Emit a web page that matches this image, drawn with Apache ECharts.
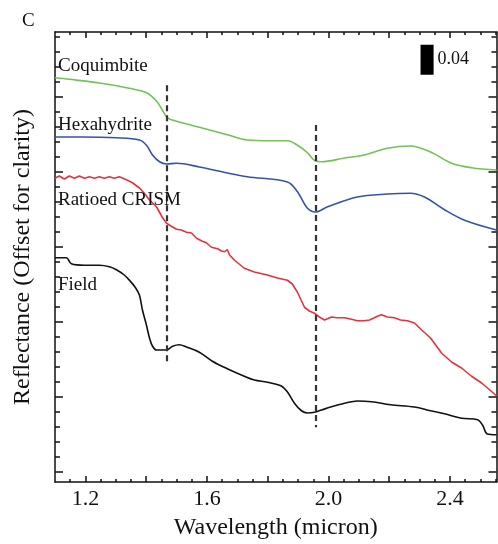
<!DOCTYPE html>
<html>
<head>
<meta charset="utf-8">
<script src="https://cdn.jsdelivr.net/npm/echarts@6/dist/echarts.min.js"></script>
<style>html,body{margin:0;padding:0;background:#fff;}#c{width:498px;height:544px;}</style>
</head>
<body>
<div id="c"></div>
<script>
// ---- data: [wavelength (micron), reflectance (offset)] ----
const coquimbite = [[1.10,0.625],[1.147,0.623],[1.246,0.618],[1.345,0.611],[1.401,0.605],[1.434,0.594],[1.453,0.582],[1.467,0.573],[1.483,0.569],[1.575,0.559],[1.667,0.549],[1.733,0.542],[1.806,0.541],[1.865,0.541],[1.898,0.535],[1.931,0.525],[1.957,0.514],[1.977,0.513],[2.053,0.518],[2.118,0.522],[2.194,0.531],[2.270,0.534],[2.336,0.526],[2.405,0.511],[2.471,0.505],[2.553,0.502]];
const hexahydrite = [[1.10,0.546],[1.190,0.546],[1.302,0.545],[1.378,0.542],[1.401,0.535],[1.421,0.522],[1.444,0.513],[1.467,0.510],[1.500,0.511],[1.575,0.506],[1.667,0.498],[1.733,0.493],[1.865,0.486],[1.898,0.473],[1.931,0.451],[1.957,0.446],[1.997,0.453],[2.095,0.466],[2.194,0.470],[2.270,0.471],[2.316,0.466],[2.382,0.449],[2.448,0.435],[2.553,0.422]];
const ratioedCRISM = [[1.10,0.491],[1.114,0.494],[1.131,0.490],[1.147,0.494],[1.164,0.491],[1.180,0.494],[1.197,0.491],[1.213,0.493],[1.230,0.491],[1.246,0.493],[1.262,0.491],[1.279,0.493],[1.295,0.491],[1.312,0.493],[1.335,0.489],[1.355,0.485],[1.378,0.478],[1.394,0.471],[1.411,0.462],[1.434,0.453],[1.453,0.439],[1.467,0.431],[1.483,0.427],[1.500,0.423],[1.516,0.422],[1.533,0.419],[1.549,0.418],[1.566,0.411],[1.585,0.407],[1.598,0.405],[1.615,0.399],[1.635,0.397],[1.648,0.394],[1.658,0.393],[1.667,0.396],[1.674,0.389],[1.690,0.382],[1.723,0.371],[1.756,0.366],[1.799,0.362],[1.832,0.358],[1.865,0.355],[1.881,0.350],[1.898,0.339],[1.921,0.319],[1.937,0.314],[1.954,0.311],[1.970,0.306],[1.987,0.302],[2.010,0.306],[2.029,0.305],[2.053,0.305],[2.076,0.303],[2.095,0.301],[2.118,0.301],[2.135,0.302],[2.151,0.305],[2.161,0.307],[2.174,0.309],[2.194,0.306],[2.217,0.305],[2.237,0.302],[2.260,0.301],[2.283,0.298],[2.306,0.289],[2.336,0.278],[2.372,0.258],[2.405,0.246],[2.438,0.238],[2.471,0.227],[2.504,0.218],[2.530,0.209],[2.553,0.201]];
const field = [[1.10,0.385],[1.137,0.385],[1.154,0.377],[1.197,0.375],[1.246,0.375],[1.279,0.373],[1.302,0.369],[1.328,0.362],[1.345,0.355],[1.365,0.345],[1.378,0.335],[1.388,0.315],[1.401,0.295],[1.411,0.278],[1.421,0.267],[1.434,0.262],[1.453,0.262],[1.467,0.262],[1.487,0.267],[1.509,0.269],[1.533,0.266],[1.575,0.259],[1.618,0.247],[1.667,0.237],[1.723,0.227],[1.756,0.222],[1.799,0.219],[1.845,0.214],[1.865,0.206],[1.888,0.191],[1.911,0.181],[1.931,0.178],[1.954,0.179],[1.977,0.182],[2.007,0.186],[2.053,0.191],[2.095,0.194],[2.142,0.193],[2.204,0.189],[2.283,0.186],[2.336,0.181],[2.382,0.177],[2.438,0.171],[2.491,0.169],[2.507,0.162],[2.523,0.150],[2.553,0.149]];

// series names and label anchor heights
const seriesNames = ['Coquimbite','Hexahydrite','Ratioed CRISM','Field'];
const labelY = [0.641, 0.562, 0.462, 0.349];

// dashed reference lines: [wavelength, yTop, yBottom]
const bandLines = [[1.467, 0.615, 0.242],[1.957, 0.562, 0.159]];

// scale bar: [x0, x1, y0, y1] and label
const scaleBar = [2.303, 2.346, 0.629, 0.669];
const scaleBarLabel = '0.04';

// axes
const xMin = 1.10, xMax = 2.553;
const yMin = 0.086, yMax = 0.686;
const xLabelValues = [1.2, 1.6, 2.0, 2.4];
const xMajorTicks = [1.2, 1.4, 1.6, 1.8, 2.0, 2.2, 2.4];
const xMinorTicks = [1.15,1.25,1.3,1.35,1.45,1.5,1.55,1.65,1.7,1.75,1.85,1.9,1.95,2.05,2.1,2.15,2.25,2.3,2.35,2.45,2.5,2.55];
const yMajorTicks = [0.1, 0.2, 0.3, 0.4, 0.5, 0.6];
const yMinorTicks = [0.12,0.14,0.16,0.18,0.22,0.24,0.26,0.28,0.32,0.34,0.36,0.38,0.42,0.44,0.46,0.48,0.52,0.54,0.56,0.58,0.62,0.64,0.66,0.68];

const colors = ['#72c255', '#3652b0', '#e8323a', '#111111'];
const smoothness = [0.35, 0.35, false, 0.35];
const FONT = "'Liberation Serif', 'Times New Roman', serif";

function xAx(pos, ticks, len, opts) {
  return Object.assign({
    type: 'value', position: pos, min: xMin, max: xMax,
    axisLine: { show: true, lineStyle: { color: '#111', width: 1.5 } },
    axisTick: { show: true, inside: true, length: len, customValues: ticks, lineStyle: { color: '#111', width: 1.5 } },
    axisLabel: { show: false },
    splitLine: { show: false }
  }, opts || {});
}
function yAx(pos, ticks, len, opts) {
  return Object.assign({
    type: 'value', position: pos, min: yMin, max: yMax,
    axisLine: { show: true, lineStyle: { color: '#111', width: 1.5 } },
    axisTick: { show: true, inside: true, length: len, customValues: ticks, lineStyle: { color: '#111', width: 1.5 } },
    axisLabel: { show: false },
    splitLine: { show: false }
  }, opts || {});
}

const chart = echarts.init(document.getElementById('c'), null, { renderer: 'canvas' });

const datasets = [coquimbite, hexahydrite, ratioedCRISM, field];
const series = datasets.map((d, i) => ({
  name: seriesNames[i], type: 'line', data: d, showSymbol: false, symbol: 'none',
  smooth: smoothness[i], xAxisIndex: 0, yAxisIndex: 0,
  lineStyle: { color: colors[i], width: 1.6 },
  silent: true, z: 3,
  markPoint: {
    symbol: 'circle', symbolSize: 0, silent: true,
    data: [{ coord: [xMin, labelY[i]], value: seriesNames[i] }],
    label: { show: true, position: 'right', distance: 3, formatter: seriesNames[i],
      color: '#111', fontFamily: FONT, fontSize: 19 }
  }
}));

series.push({
  type: 'line', data: [], xAxisIndex: 0, yAxisIndex: 0, silent: true,
  markLine: {
    symbol: ['none', 'none'], silent: true, label: { show: false },
    lineStyle: { color: '#333', width: 2.2, type: [6, 4] },
    data: bandLines.map(b => [{ coord: [b[0], b[1]] }, { coord: [b[0], b[2]] }])
  },
  markArea: {
    silent: true,
    itemStyle: { color: '#000', opacity: 1 },
    label: { show: true, position: 'right', distance: 4, formatter: scaleBarLabel, color: '#111', fontFamily: FONT, fontSize: 18 },
    data: [[{ coord: [scaleBar[0], scaleBar[3]] }, { coord: [scaleBar[1], scaleBar[2]] }]]
  }
});

chart.setOption({
  animation: false,
  backgroundColor: '#fff',
  grid: { left: 55, right: 1.5, top: 32, bottom: 62, containLabel: false, outerBoundsMode: 'none' },
  xAxis: [
    xAx('bottom', xMajorTicks, 6, {
      name: 'Wavelength (micron)', nameLocation: 'middle', nameGap: 34,
      nameTextStyle: { fontFamily: FONT, fontSize: 24, color: '#111' },
      axisLabel: { show: true, customValues: xLabelValues, margin: 6, color: '#111', fontFamily: FONT, fontSize: 22,
        formatter: v => v.toFixed(1) }
    }),
    xAx('bottom', xMinorTicks, 3, { axisLine: { show: false } }),
    xAx('top', xMajorTicks, 6),
    xAx('top', xMinorTicks, 3, { axisLine: { show: false } })
  ],
  yAxis: [
    yAx('left', yMajorTicks, 8, {
      name: 'Reflectance (Offset for clarity)', nameLocation: 'middle', nameGap: 20, nameRotate: 90,
      nameTextStyle: { fontFamily: FONT, fontSize: 24, color: '#111' }
    }),
    yAx('left', yMinorTicks, 5, { axisLine: { show: false } }),
    yAx('right', yMajorTicks, 8),
    yAx('right', yMinorTicks, 5, { axisLine: { show: false } })
  ],
  graphic: [{ type: 'text', left: 22, top: 12, style: { text: 'C', fontFamily: FONT, fontSize: 19, fill: '#111' } }],
  series: series
});
</script>
</body>
</html>
